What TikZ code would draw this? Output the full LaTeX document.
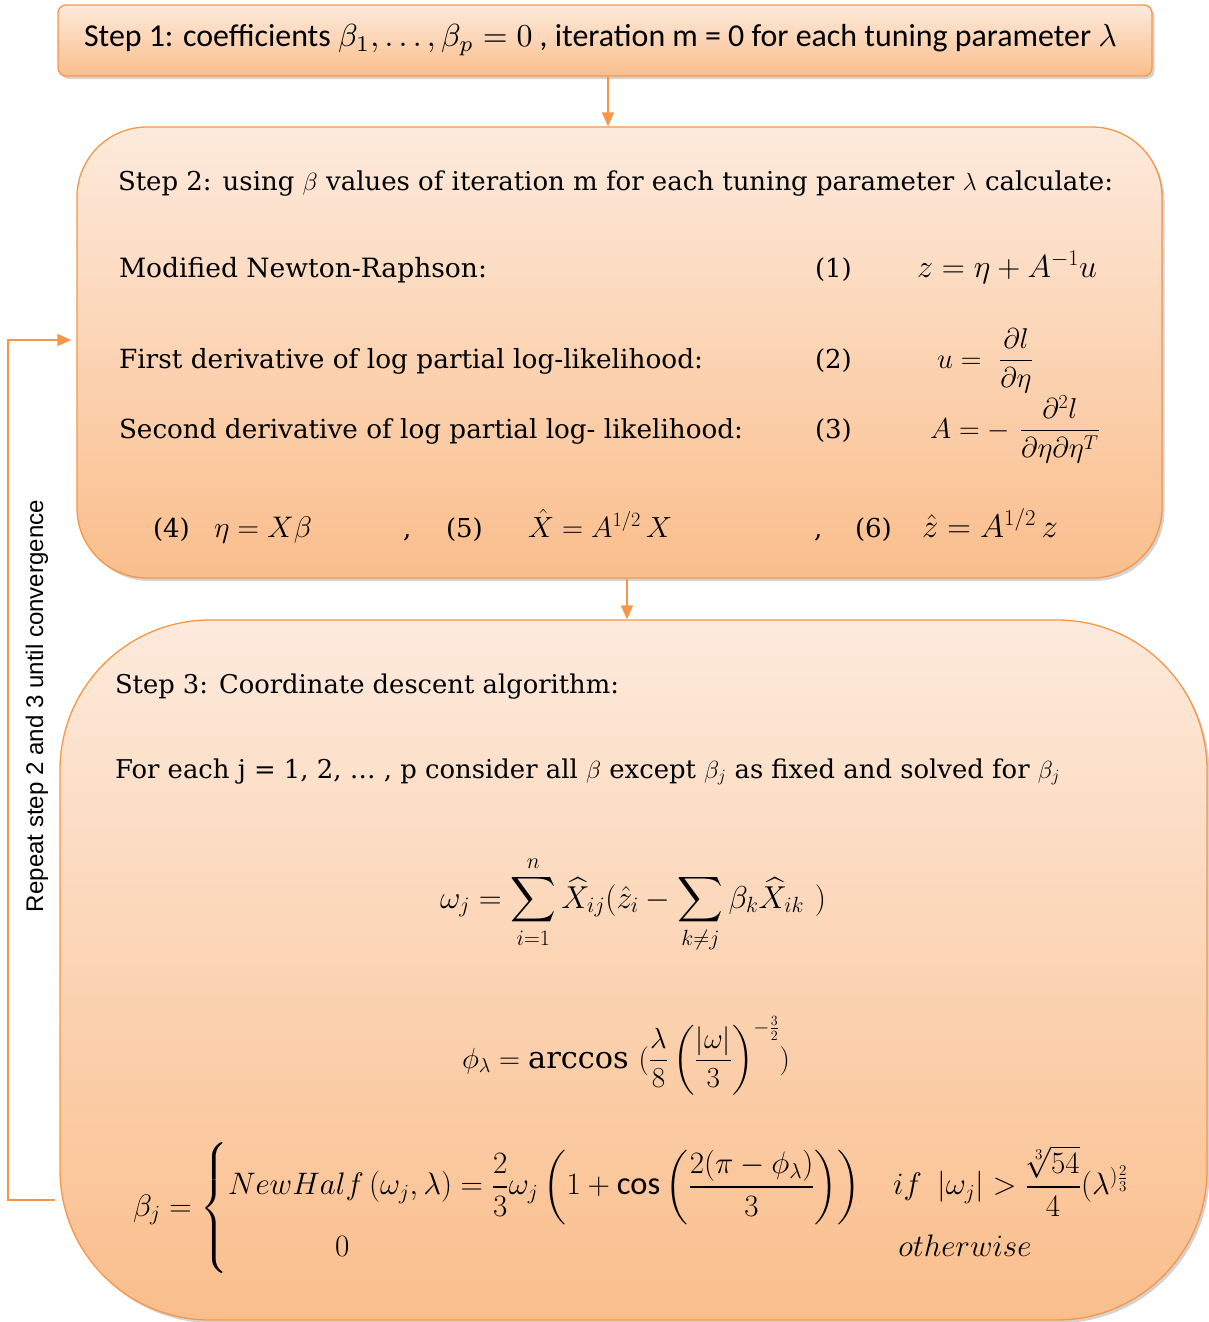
\documentclass[tikz,border=0pt]{standalone}
\usepackage{fontspec}
\usepackage{amsmath}
\setmainfont{DejaVu Serif}
\newfontfamily\calib{Carlito}
\newfontfamily\arialf{Liberation Sans}
\usetikzlibrary{shadows,arrows.meta,calc}
\definecolor{obord}{RGB}{247,150,70}
\definecolor{otop}{RGB}{253,234,220}
\definecolor{obot}{RGB}{250,190,140}
\newcommand\fitw[2]{\resizebox{#1pt}{!}{#2}}
\tikzset{
  box/.style={draw=obord, line width=1.3pt, top color=otop, bottom color=obot,
    drop shadow={shadow xshift=2.5pt, shadow yshift=-3pt, opacity=0.35}, inner sep=0pt},
  arr/.style={draw=obord, line width=1.4pt, -{Triangle[length=14pt,width=12pt]}},
  txt/.style={inner sep=0pt, outer sep=0pt, text=black},
}
\begin{document}
\begin{tikzpicture}[x=1pt, y=-1pt, font=\fontsize{26}{31}\selectfont]
\useasboundingbox (0,0) rectangle (1209,1322);

% boxes
\node[box, rounded corners=8pt, minimum width=1094pt, minimum height=71pt] (s1) at (605,40.5) {};
\node[box, rounded corners=70pt, minimum width=1085pt, minimum height=451pt] (s2) at (619.5,352.5) {};
\node[box, rounded corners=150pt, minimum width=1147pt, minimum height=700pt] (s3) at (633.5,970) {};

% connectors
\draw[arr] ([xshift=3pt]s1.south) -- ([xshift=3pt]s1.south |- s2.north);
\draw[arr] ([xshift=7.5pt]s2.south) -- ([xshift=7.5pt]s2.south |- s3.north);
\coordinate (fb) at (55,1200);
\draw[arr] (fb) -- (8,1200) |- ([xshift=-5pt,yshift=12.5pt]s2.west);
\node[txt, rotate=90, font=\arialf] (rep) at (37,706) {\fitw{412}{Repeat step 2 and 3 until convergence}};

% step 1
\node[txt, anchor=base west, font=\calib] (t1) at (84,47) {\fitw{1033}{Step 1: coefficients $\beta_1, \dots, \beta_p = 0$ , iteration m = 0 for each tuning parameter $\lambda$}};

% step 2
\node[txt, anchor=base west] (t2) at (118,190) {\fitw{995}{Step 2: using $\beta$ values of iteration m for each tuning parameter $\lambda$ calculate:}};
\node[txt, anchor=base west] (r1) at (119,277) {\fitw{368}{Modified Newton-Raphson:}};
\node[txt, anchor=base west] (n1) at (815,277) {(1)};
\node[txt, anchor=base west] (f1) at (917,277) {\fitw{180}{$z = \eta + A^{-1}u$}};
\node[txt, anchor=base west] (r2) at (119,368) {\fitw{584}{First derivative of log partial log-likelihood:}};
\node[txt, anchor=base west] (n2) at (815,368) {(2)};
\node[txt, anchor=base west] (f2) at (937,368) {\fitw{96}{$u =\ \dfrac{\partial l}{\partial \eta}$}};
\node[txt, anchor=base west] (r3) at (119,438) {\fitw{624}{Second derivative of log partial log- likelihood:}};
\node[txt, anchor=base west] (n3) at (815,438) {(3)};
\node[txt, anchor=base west] (f3) at (930,438) {\fitw{170}{$A = -\ \dfrac{\partial^2 l}{\partial \eta \partial \eta^T}$}};
\node[txt, anchor=base west] (n4) at (153,537) {(4)};
\node[txt, anchor=base west] (f4) at (214,537) {\fitw{98}{$\eta = X\beta$}};
\node[txt, anchor=base west] (c1) at (403,537) {,};
\node[txt, anchor=base west] (n5) at (446,537) {(5)};
\node[txt, anchor=base west] (f5) at (528,537) {\fitw{144}{$\hat{X} = A^{1/2}\, X$}};
\node[txt, anchor=base west] (c2) at (814,537) {,};
\node[txt, anchor=base west] (n6) at (855,537) {(6)};
\node[txt, anchor=base west] (f6) at (922,537) {\fitw{136}{$\hat{z} = A^{1/2}\, z$}};

% step 3
\node[txt, anchor=base west] (t3) at (115,693) {\fitw{504}{Step 3: Coordinate descent algorithm:}};
\node[txt, anchor=base west] (t4) at (115,778) {\fitw{945}{For each j = 1, 2, \dots\ , p consider all $\beta$ except $\beta_j$ as fixed and solved for $\beta_j$}};
\node[txt, anchor=base west] (f7) at (440,908) {\fitw{386}{$\displaystyle \omega_j = \sum_{i=1}^{n} \widehat{X}_{ij}(\hat{z}_i - \sum_{k\neq j}\beta_k \widehat{X}_{ik}\ )$}};
\node[txt, anchor=base west] (f8) at (462,1068) {\fitw{328}{$\displaystyle \phi_\lambda = \text{arccos}\ (\frac{\lambda}{8}\left(\frac{|\omega|}{3}\right)^{-\frac{3}{2}})$}};
\node[txt, anchor=base west] (f9) at (133,1216) {\fitw{997}{$\displaystyle \beta_j = \begin{cases} \mathnormal{NewHalf}\left(\omega_j,\lambda\right) = \dfrac{2}{3}\omega_j\left(1+\text{\calib cos}\left(\dfrac{2(\pi-\phi_\lambda)}{3}\right)\right) & \mathnormal{if}\ \left|\omega_j\right| > \dfrac{\sqrt[3]{54}}{4}(\lambda^{)\frac{2}{3}} \\[10pt] \hspace{3.3em}0 & \,\mathnormal{otherwise} \end{cases}$}};
\end{tikzpicture}
\end{document}
